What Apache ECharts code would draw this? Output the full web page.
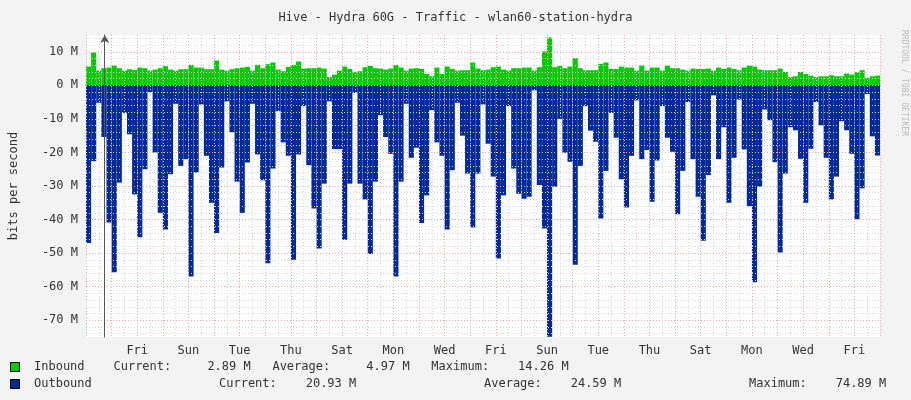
<!DOCTYPE html>
<html><head><meta charset="utf-8">
<script src="https://cdn.jsdelivr.net/npm/echarts@6/dist/echarts.min.js"></script>
<style>html,body{margin:0;padding:0;background:#f3f3f3}#c{width:911px;height:400px}</style>
</head><body><div id="c"></div>
<script>
const inbound = [5.6,9.8,4.4,5.1,5.3,5.9,5.1,4.4,4.8,4.6,5.3,5.1,4.4,4.7,5.1,5.7,4.7,4.4,4.8,4.8,6.1,5.3,5.3,4.8,4.8,7.4,4.7,4.4,4.8,5.1,5.3,5.5,4.4,6.1,5.1,6.3,6.8,4.7,4.2,5.5,
6.1,7.1,5.0,5.1,5.1,5.3,5.0,2.5,3.2,4.4,5.6,4.9,4.0,4.2,5.4,5.8,5.1,5.0,4.7,5.0,6.1,5.3,4.4,5.0,5.1,4.9,3.4,2.7,5.3,3.4,5.6,4.9,4.4,4.5,4.5,6.8,5.0,4.5,
4.7,5.4,5.6,4.7,4.4,5.1,5.1,5.3,5.3,4.4,5.4,10.1,14.26,5.4,5.8,5.1,5.6,8.1,5.1,4.5,4.5,4.5,6.4,6.8,4.9,4.9,5.6,5.3,5.3,4.4,5.9,4.4,5.3,5.3,4.4,5.9,5.1,5.1,
4.7,4.4,5.0,4.9,4.9,5.0,4.4,5.3,4.9,5.3,4.9,4.5,5.3,5.9,5.6,4.7,4.5,4.5,4.5,5.0,4.0,2.5,2.7,4.0,3.4,2.9,2.5,2.7,2.7,3.0,2.7,2.7,3.5,3.2,3.9,4.5,2.2,2.7,2.89];
const outbound = [-47,-22.6,-5.2,-15.4,-40.9,-55.7,-29,-8.2,-14.6,-32.5,-45.3,-25,-2,-20,-38,-43,-26.5,-5.5,-24,-22,-57,-26,-5.7,-21,-35,-44,-24.5,-4.8,-14,-28.7,-38,-23,-5.5,-20.6,-28.3,-53,-24.8,-7.7,-17,-21,
-52,-20.6,-6.2,-23.8,-36.7,-48.6,-29.3,-4.8,-19,-19,-46,-29.3,-2.3,-29.3,-34,-50.3,-28.7,-8.9,-15.4,-20.4,-57,-28.7,-5.5,-21.6,-18.6,-41,-32.8,-7.4,-17,-21,-43,-25.3,-5.2,-15,-26.3,-42.4,-26.3,-5.7,
-17.4,-27.2,-51.6,-32.8,-6.2,-24.8,-32.3,-33.8,-33.2,-1.5,-29.7,-42.7,-74.89,-30.2,-10,-20.1,-22.8,-53.5,-24,-6.2,-13.5,-16.8,-39.7,-25.5,-8.2,-15.6,-28,-36.4,-21,-4.5,-22,-19.3,-34.7,-22.4,-6.2,-15.6,-19.8,-38.4,
-25.5,-5,-22,-33.2,-46.3,-26.7,-3,-22,-12.5,-35,-21.6,-4.3,-19.1,-36,-58.7,-30.2,-7.2,-10.4,-22.9,-49.8,-26.3,-12.5,-13.4,-21.9,-35,-18.9,-5,-11.9,-21.6,-34,-27.2,-10.7,-13.4,-20.4,-39.9,-30.7,-2.6,-15.2,-20.93];
const dayLabels = ['Fri','Sun','Tue','Thu','Sat','Mon','Wed','Fri','Sun','Tue','Thu','Sat','Mon','Wed','Fri'];
const idx = inbound.map((_, i) => i);
const mono = 'DejaVu Sans Mono';
const R = '#f0a8a8', G = '#d8d8d8', T = 'rgba(0,0,0,0)';
const chart = echarts.init(document.getElementById('c'));
chart.setOption({
  backgroundColor: '#f3f3f3',
  animation: false,
  title: {text: 'Hive - Hydra 60G - Traffic - wlan60-station-hydra', left: 'center', top: 7,
    textStyle: {fontFamily: mono, fontSize: 12, fontWeight: 'normal', color: '#333'}},
  grid: {left: 80, right: 31, top: 35, bottom: 63, show: true, backgroundColor: '#fff', borderWidth: 0},
  xAxis: [
    {type: 'category', data: idx, boundaryGap: true, axisLabel: {show: false}, axisTick: {show: false},
     axisLine: {show: true, lineStyle: {color: '#555'}, symbol: ['none', 'arrow'], symbolSize: [7, 8]}, splitLine: {show: false}},
    {type: 'value', min: -0.73, max: 30.27, interval: 0.5, show: true, z: 5, position: 'bottom',
     axisLine: {show: false}, axisTick: {show: false}, axisLabel: {show: false},
     splitLine: {show: true, lineStyle: {color: [R, G], type: [1, 2], width: 1}}},
    {type: 'value', min: -0.23, max: 30.77, interval: 2, position: 'bottom', z: 5,
     axisLine: {show: false}, axisTick: {show: false}, splitLine: {show: false},
     axisLabel: {fontFamily: mono, fontSize: 12, color: '#333', margin: 8, showMinLabel: true, showMaxLabel: false,
       formatter: v => v < 0 ? '' : (dayLabels[Math.round((v - 1.77) / 2)] || '')}}
  ],
  yAxis: {type: 'value', min: -75, max: 15, interval: 1, z: 5,
    name: 'bits per second', nameLocation: 'middle', nameGap: 66, nameRotate: 90,
    nameTextStyle: {fontFamily: mono, fontSize: 12, color: '#333'},
    axisLine: {show: true, lineStyle: {color: '#555'}, symbol: ['none', 'arrow'], symbolSize: [7, 8]},
    axisTick: {show: false},
    axisLabel: {fontFamily: mono, fontSize: 12, color: '#333', margin: 8,
      formatter: v => (v % 10 === 0) ? (v + ' M') : ''},
    splitLine: {show: true, lineStyle: {color: [T, G, T, G, T, R, T, G, T, G], type: [1, 2], width: 1}}},
  series: [
    {name: 'Inbound', type: 'bar', data: inbound, barWidth: '100%', barGap: '-100%', itemStyle: {color: '#00cc00'}},
    {name: 'Outbound', type: 'bar', data: outbound, barWidth: '100%', barGap: '-100%', itemStyle: {color: '#002a97'}}
  ],
  graphic: [
    {type: 'text', right: 3, top: 30, rotation: -Math.PI / 2, style: {text: 'RRDTOOL / TOBI OETIKER', fill: '#bbb', font: '8px ' + mono}},
    {type: 'rect', left: 10, top: 362, shape: {width: 9, height: 9}, style: {fill: '#00cc00', stroke: '#000', lineWidth: 1}},
    {type: 'rect', left: 10, top: 379, shape: {width: 9, height: 9}, style: {fill: '#002a97', stroke: '#000', lineWidth: 1}},
    {type: 'text', left: 34, top: 361, style: {text: 'Inbound    Current:     2.89 M   Average:     4.97 M   Maximum:    14.26 M', fill: '#333', font: '12px ' + mono}},
    {type: 'text', left: 34, top: 378, style: {text: 'Outbound', fill: '#333', font: '12px ' + mono}},
    {type: 'text', left: 219, top: 378, style: {text: 'Current:    20.93 M', fill: '#333', font: '12px ' + mono}},
    {type: 'text', left: 484, top: 378, style: {text: 'Average:    24.59 M', fill: '#333', font: '12px ' + mono}},
    {type: 'text', left: 749, top: 378, style: {text: 'Maximum:    74.89 M', fill: '#333', font: '12px ' + mono}}
  ]
});
</script></body></html>
